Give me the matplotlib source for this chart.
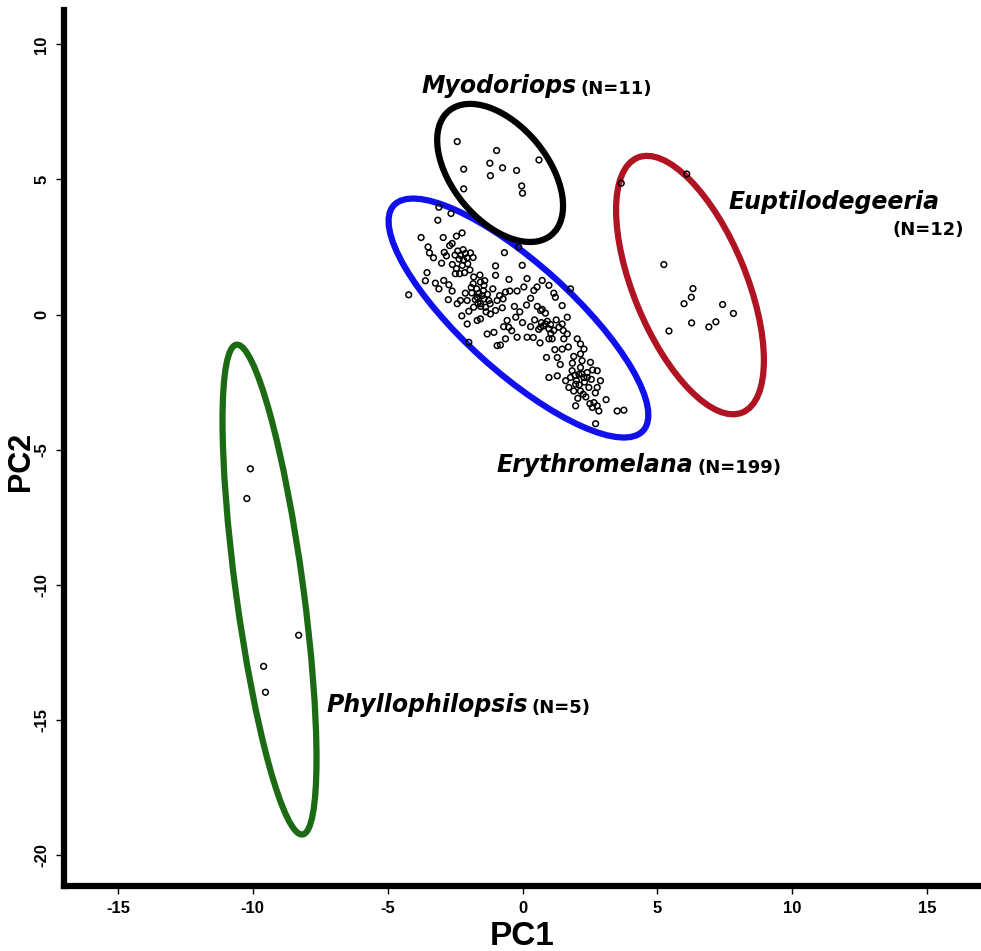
import numpy as np
import matplotlib
matplotlib.use("Agg")
import matplotlib.pyplot as plt
from matplotlib.patches import Ellipse

# PCA scores (PC1, PC2), one list per genus
ery_scores = [
    # upper part of the Erythromelana cloud
    (-3.10, 3.97), (-2.65, 3.74), (-3.14, 3.49), (-3.76, 2.85), (-2.94, 2.85),
    (-2.45, 2.90), (-2.24, 3.02), (-3.50, 2.50), (-3.45, 2.28), (-2.61, 2.63),
    (-2.40, 2.35), (-2.82, 2.17), (-2.30, 2.19), (-2.12, 2.26), (-1.93, 2.28),
    (-1.83, 2.11), (-2.18, 2.01), (-2.23, 1.82), (-2.03, 1.88), (-3.54, 1.55),
    (-2.33, 1.51), (-2.49, 1.51), (-3.23, 1.16), (-2.92, 1.26), (-2.73, 1.10),
    (-2.61, 0.87), (-2.12, 0.79), (-1.81, 1.39), (-1.58, 1.46), (-1.83, 1.14),
    (-1.56, 1.20), (-1.43, 1.08), (-1.00, 1.80), (-0.67, 2.29), (-0.01, 1.82),
    (-0.14, 2.50), (-4.22, 0.73),
    # middle
    (-2.05, 0.52), (-1.68, 0.64), (-1.56, 0.40), (-1.43, 0.58), (-1.25, 0.52),
    (-1.37, 0.27), (-1.19, 0.02), (-0.94, 0.52), (-0.72, 0.58), (-0.75, 0.25),
    (-1.00, 0.15), (-0.63, 0.83), (-0.47, 0.87), (-0.20, 0.87), (0.05, 1.02),
    (0.17, 1.33), (0.42, 0.89), (0.73, 1.26), (0.54, 1.02), (0.98, 1.08),
    (1.16, 0.79), (1.22, 0.64), (1.78, 0.95), (1.47, 0.33), (1.66, -0.10),
    (0.73, 0.19), (0.67, 0.15), (0.67, -0.47), (0.85, -0.35), (0.98, -0.53),
    (1.04, -0.37), (1.16, -0.59), (1.35, -0.47), (1.47, -0.35), (1.51, -0.59),
    (-1.99, 0.12), (-1.68, -0.22), (-1.56, -0.16), (-2.05, -0.35), (-1.31, -0.72),
    (-1.06, -0.66), (-0.63, -0.90), (-0.20, -0.84), (0.17, -0.84), (-0.57, -0.22),
    (-0.51, -0.47), (-0.94, -1.15), (-0.82, -1.13), (-1.99, -1.03), (-2.30, 0.52),
    (-2.42, 0.40), (-1.81, 0.27),
    # lower tail
    (0.98, -0.90), (1.10, -0.90), (1.53, -0.90), (1.47, -1.28), (1.66, -0.72),
    (2.03, -0.90), (2.15, -1.09), (2.28, -1.28), (2.15, -1.46), (2.21, -1.71),
    (2.15, -1.96), (2.52, -1.77), (2.09, -2.21), (2.28, -2.33), (2.40, -2.33),
    (2.77, -2.08), (1.84, -2.08), (1.72, -2.70), (1.90, -2.83), (2.15, -2.83),
    (2.46, -2.70), (2.89, -2.45), (2.77, -2.70), (2.65, -3.26), (2.77, -3.38),
    (2.59, -3.44), (2.83, -3.57), (3.51, -3.57), (3.76, -3.54), (2.71, -4.04),
    (1.97, -3.38), (1.29, -1.59), (0.89, -1.59), (0.98, -2.33), (1.29, -2.27),
    (1.78, -2.33), (1.97, -2.58),
    # overlapping points in the dense spots
    (-1.70, 0.95), (-1.62, 0.78), (-1.50, 0.70), (-1.75, 0.55), (-1.45, 0.88),
    (-1.30, 0.75), (-1.88, 0.80), (-1.55, 0.30), (-1.20, 0.40), (-1.35, 0.10),
    (-1.65, 0.42), (-1.90, 1.00), (-1.40, 1.25), (-1.10, 0.95), (-0.85, 0.70),
    (0.70, -0.30), (0.78, -0.42), (0.92, -0.25), (0.60, -0.55), (1.05, -0.70),
    (0.45, -0.20), (0.30, -0.45), (0.85, 0.05), (1.25, -0.20), (0.55, 0.30),
    (0.15, 0.35), (-0.10, 0.10), (0.00, -0.30), (-0.30, 0.30),
    (2.00, -2.45), (2.10, -2.60), (2.30, -2.50), (2.40, -2.15), (1.95, -2.25),
    (2.25, -2.95), (2.55, -2.40), (2.35, -3.05), (2.05, -3.10), (2.60, -2.05),
    (1.60, -2.45), (2.50, -3.30), (2.20, -2.20), (2.70, -2.90), (1.85, -1.80),
    (-2.35, 2.05), (-2.20, 2.40), (-2.50, 2.20), (-2.05, 2.10), (-2.60, 1.85),
    (-1.95, 1.65), (-2.15, 1.55), (-2.70, 2.55), (-2.90, 2.30), (-3.00, 1.90),
    (-3.30, 2.10), (-2.45, 1.70),
    (-0.40, -0.60), (-0.70, -0.45), (0.40, -0.85), (0.65, -1.05), (1.20, -1.30),
    (1.70, -1.20), (1.90, -1.55), (1.40, -1.85), (0.30, 0.60), (-0.50, 1.30),
    (-1.00, 1.45), (-3.60, 1.25), (-3.10, 0.95), (-2.75, 0.55), (-2.25, -0.05),
    (3.10, -3.15), (-0.25, -0.10),
]

myo_scores = [
    (-2.42, 6.40), (-0.96, 6.07), (-2.18, 5.38), (-1.21, 5.60), (-0.74, 5.43),
    (-0.22, 5.33), (-1.19, 5.14), (0.61, 5.72), (-2.18, 4.65), (-0.03, 4.76),
    (0.00, 4.49),
]

eup_scores = [
    (5.24, 1.85), (6.32, 0.96), (6.26, 0.64), (5.99, 0.40), (7.42, 0.37),
    (7.82, 0.04), (6.27, -0.31), (7.17, -0.27), (6.91, -0.46), (5.43, -0.61),
    (6.09, 5.20), (3.66, 4.86),
]

phy_scores = [
    (-10.09, -5.71), (-10.22, -6.81), (-8.30, -11.87), (-9.60, -13.02), (-9.53, -13.98),
]

# confidence ellipses: centre x, centre y, width, height, angle (deg)
ery_ellipse = (-0.15, -0.13, 12.45, 4.0, -42.0)
myo_ellipse = (-0.83, 5.24, 5.96, 3.52, -50.4)
eup_ellipse = (6.21, 1.09, 10.20, 4.18, -67.6)
phy_ellipse = (-9.38, -10.18, 18.29, 2.5, -82.3)

groups = [
    (ery_scores, ery_ellipse, "#1010ee"),
    (myo_scores, myo_ellipse, "#000000"),
    (eup_scores, eup_ellipse, "#b01423"),
    (phy_scores, phy_ellipse, "#1c6b14"),
]

x_ticks = [-15, -10, -5, 0, 5, 10, 15]
y_ticks = [-20, -15, -10, -5, 0, 5, 10]

fig = plt.figure(figsize=(9.81, 9.51), dpi=100)
ax = fig.add_axes([64 / 981, 1 - 886 / 951, 917 / 981, 876 / 951])

for scores, (cx, cy, w, h, ang), colour in groups:
    ax.add_patch(Ellipse((cx, cy), w, h, angle=ang, fill=False,
                         edgecolor=colour, linewidth=4.5, zorder=2))
    pts = np.array(scores)
    ax.scatter(pts[:, 0], pts[:, 1], s=17, facecolors="none",
               edgecolors="black", linewidths=1.1, zorder=3)

ax.set_xlim(-17, 17)
ax.set_ylim(-21.15, 11.27)

# axis styling: only left and bottom spines, thick
for side in ["top", "right"]:
    ax.spines[side].set_visible(False)
for side in ["left", "bottom"]:
    ax.spines[side].set_linewidth(4.5)
    ax.spines[side].set_capstyle("projecting")

ax.set_xticks(x_ticks)
ax.set_yticks(y_ticks)
tick_font = dict(family="Liberation Sans", weight="bold", size=12)
ax.set_xticklabels([str(v) for v in x_ticks], fontdict=tick_font)
ax.set_yticklabels([str(v) for v in y_ticks], fontdict=tick_font,
                   rotation=90, va="center")
ax.tick_params(length=5.5, width=1.0, pad=5)

ax.set_xlabel("PC1", family="Liberation Sans", weight="bold", fontsize=24)
ax.set_ylabel("PC2", family="Liberation Sans", weight="bold", fontsize=22)
ax.xaxis.set_label_coords(0.4995, -0.040)
ax.yaxis.set_label_coords(-0.031, 0.485)


def genus_label(x, y, name, count):
    t = ax.text(x, y, name, fontsize=17, fontweight="bold",
                fontstyle="italic", va="baseline")
    ax.annotate(f"(N={count})", xy=(1, 0), xycoords=t, xytext=(3, 0),
                textcoords="offset points", fontsize=13, fontweight="bold",
                va="bottom")


genus_label(-3.76, 8.20, "Myodoriops", 11)
genus_label(-0.95, -5.83, "Erythromelana", 199)
genus_label(-7.28, -14.71, "Phyllophilopsis", 5)

ax.text(7.62, 3.90, "Euptilodegeeria", fontsize=17, fontweight="bold",
        fontstyle="italic", va="baseline")
ax.text(16.36, 2.94, "(N=12)", fontsize=13, fontweight="bold",
        ha="right", va="baseline")

fig.savefig("out.png", dpi=100, facecolor="white")
